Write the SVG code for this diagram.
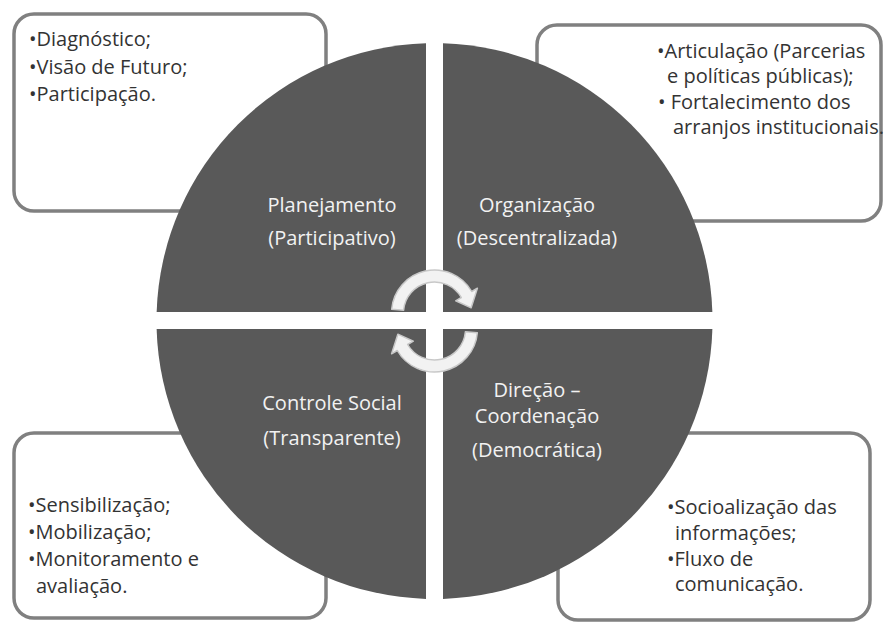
<svg xmlns="http://www.w3.org/2000/svg" width="884" height="624" viewBox="0 0 884 624">
  <style>
    .box { fill: #ffffff; stroke: #808080; stroke-width: 3.5; }
    .quad { fill: #595959; }
    .btxt { font-family: "Open Sans", "Noto Sans", "Liberation Sans", sans-serif; font-size: 20px; fill: #333333; }
    .qtxt { font-family: "Open Sans", "Noto Sans", "Liberation Sans", sans-serif; font-size: 20px; fill: #f2f2f2; text-anchor: middle; }
    .cyc { fill: #f2f2f2; stroke: #c8c8c8; stroke-width: 1.5; stroke-linejoin: round; }
  </style>
  <defs>
    <!-- curved arrow: band around (434.5,313), head pointing clockwise -->
    <path id="curved-arrow" d="M391.66,309.25 A43,43 0 0,1 471.74,291.5 L477.4,288.2 L471.14,307.85 L455.7,300.8 L461.35,297.5 A31,31 0 0,0 403.62,310.3 Z"/>
  </defs>

  <rect width="884" height="624" fill="#ffffff"/>

  <!-- detail boxes -->
  <g id="box-planejamento">
    <rect class="box" x="14" y="14" width="312" height="197" rx="20"/>
    <text class="btxt" x="29" y="46" font-size="20.5">•Diagnóstico;</text>
    <text class="btxt" x="29" y="73.5" font-size="20.5">•Visão de Futuro;</text>
    <text class="btxt" x="29" y="101" font-size="20.5">•Participação.</text>
  </g>
  <g id="box-organizacao">
    <rect class="box" x="537" y="25" width="344" height="196" rx="20"/>
    <text class="btxt" x="657" y="58" font-size="19.5">•Articulação (Parcerias</text>
    <text class="btxt" x="667" y="83" font-size="19.5">e políticas públicas);</text>
    <text class="btxt" x="658" y="109" font-size="19.5">• Fortalecimento dos</text>
    <text class="btxt" x="673" y="134" font-size="19.5">arranjos institucionais.</text>
  </g>
  <g id="box-controle">
    <rect class="box" x="14" y="433" width="312" height="185" rx="20"/>
    <text class="btxt" x="28" y="512">•Sensibilização;</text>
    <text class="btxt" x="28" y="539">•Mobilização;</text>
    <text class="btxt" x="28" y="566">•Monitoramento e</text>
    <text class="btxt" x="36" y="593">avaliação.</text>
  </g>
  <g id="box-direcao">
    <rect class="box" x="558" y="433" width="312" height="187" rx="20"/>
    <text class="btxt" x="667" y="514">•Socioalização das</text>
    <text class="btxt" x="675" y="540">informações;</text>
    <text class="btxt" x="667" y="566">•Fluxo de</text>
    <text class="btxt" x="675" y="591">comunicação.</text>
  </g>

  <!-- quadrants of the central circle -->
  <g id="quad-planejamento">
    <path class="quad" d="M426,312 L426,43.13 A278,278 0 0,0 156.65,312 Z"/>
    <text class="qtxt" x="332" y="211.5">Planejamento</text>
    <text class="qtxt" x="332" y="245">(Participativo)</text>
  </g>
  <g id="quad-organizacao">
    <path class="quad" d="M443,312 L443,43.13 A278,278 0 0,1 712.35,312 Z"/>
    <text class="qtxt" x="537" y="211.5">Organização</text>
    <text class="qtxt" x="537" y="245">(Descentralizada)</text>
  </g>
  <g id="quad-controle">
    <path class="quad" d="M426,329 L426,598.88 A278,278 0 0,1 156.62,329 Z"/>
    <text class="qtxt" x="332" y="410">Controle Social</text>
    <text class="qtxt" x="332" y="445">(Transparente)</text>
  </g>
  <g id="quad-direcao">
    <path class="quad" d="M443,329 L443,598.88 A278,278 0 0,0 712.38,329 Z"/>
    <text class="qtxt" x="537" y="397">Direção –</text>
    <text class="qtxt" x="537" y="423">Coordenação</text>
    <text class="qtxt" x="537" y="457">(Democrática)</text>
  </g>

  <!-- cycle arrows in the centre -->
  <g id="connectors">
    <use href="#curved-arrow" class="cyc"/>
    <use href="#curved-arrow" class="cyc" transform="rotate(180 434.5 321)"/>
  </g>
</svg>
